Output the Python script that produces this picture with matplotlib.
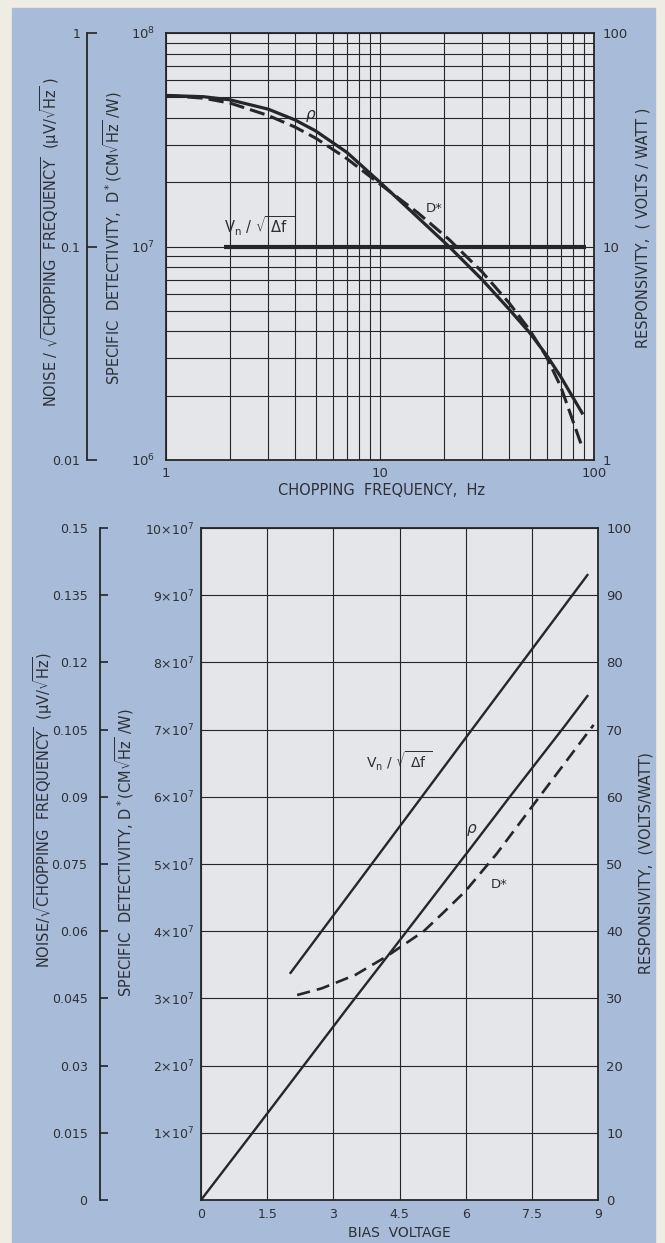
import matplotlib
matplotlib.use("Agg")
import matplotlib.pyplot as plt
from matplotlib.patches import Rectangle
from matplotlib.ticker import LogLocator, NullFormatter, NullLocator

# ---- top panel: response vs chopping frequency ----
freq = [1.0, 1.5, 2.0, 3.0, 4.0, 5.0, 7.0, 10.0, 15.0, 21.0, 30.0, 40.0, 50.0, 60.0, 70.0, 88.0]
rho_freq = [51.0, 50.3, 48.6, 44.0, 39.2, 34.8, 27.6, 20.0, 13.7, 10.0, 7.0, 5.1, 3.95, 3.1, 2.45, 1.66]
dstar_freq = [5.1e7, 4.95e7, 4.69e7, 4.11e7, 3.63e7, 3.22e7, 2.58e7, 1.96e7, 1.44e7, 1.08e7,
              7.6e6, 5.46e6, 4.07e6, 3.04e6, 2.2e6, 1.15e6]
noise_freq_x = [1.87, 92.0]
noise_freq = [0.1, 0.1]

# ---- bottom panel: response vs bias voltage ----
bias_rho = [0.0, 1.25, 2.2, 3.3, 4.5, 6.0, 7.0, 8.23, 8.76]
rho_bias = [0.0, 10.7, 18.9, 28.4, 38.6, 51.4, 60.0, 70.4, 75.0]
bias_dstar = [2.18, 2.74, 3.5, 4.22, 5.05, 5.5, 6.0, 6.7, 7.5, 8.9]
dstar_bias = [3.05e7, 3.15e7, 3.35e7, 3.63e7, 4.0e7, 4.28e7, 4.6e7, 5.15e7, 5.85e7, 7.07e7]
bias_noise = [2.03, 4.09, 6.05, 8.76]
noise_bias = [0.0507, 0.0779, 0.1038, 0.1395]

bias_ticks = [0, 1.5, 3, 4.5, 6, 7.5, 9]
bias_labels = ['0', '1.5', '3', '4.5', '6', '7.5', '9']
dstar_ticks = [k * 1e7 for k in range(1, 11)]
dstar_labels = [r'%d$\times$10$^7$' % k for k in range(1, 11)]
resp_ticks = list(range(0, 101, 10))
noise_ticks = [0.015 * k for k in range(11)]
noise_labels = ['0', '0.015', '0.03', '0.045', '0.06', '0.075', '0.09', '0.105', '0.12', '0.135', '0.15']

W, H = 665, 1243
CREAM = '#efece4'
BLUE = '#a8bcd9'
PLOT = '#e4e6ea'
INK = '#262628'
TEXT = '#2e2f36'

plt.rcParams['font.family'] = ['DejaVu Sans']


def rect(l, t, r, b):
    return [l / W, 1 - b / H, (r - l) / W, (b - t) / H]


def px(x, y):
    return x / W, 1 - y / H


fig = plt.figure(figsize=(W / 100, H / 100), dpi=100)
fig.patch.set_facecolor(CREAM)
fig.add_artist(Rectangle((12 / W, 0), (655 - 12) / W, 1 - 8 / H,
                         transform=fig.transFigure, color=BLUE, zorder=0))

# ================= top panel =================
ax1 = fig.add_axes(rect(166, 33, 594, 460))
ax1.set_facecolor(PLOT)
ax1.set_xscale('log')
ax1.set_yscale('log')
ax1.set_xlim(1, 100)
ax1.set_ylim(1e6, 1e8)
ax1.set_xticks([1, 10, 100], ['1', '10', '100'])
ax1.set_yticks([1e6, 1e7, 1e8], [r'10$^6$', r'10$^7$', r'10$^8$'])
for a in (ax1.xaxis, ax1.yaxis):
    a.set_minor_locator(LogLocator(base=10, subs=range(2, 10)))
    a.set_minor_formatter(NullFormatter())
ax1.grid(True, which='both', color=INK, lw=0.8)
ax1.tick_params(which='both', length=0, labelsize=9.5, colors=TEXT)
ax1.tick_params(axis='y', pad=8)
ax1.tick_params(axis='x', pad=5)
for s in ax1.spines.values():
    s.set_linewidth(1.3)
    s.set_color(INK)

ax1r = ax1.twinx()
ax1r.set_yscale('log')
ax1r.set_ylim(1, 100)
ax1r.set_yticks([1, 10, 100], ['1', '10', '100'])
ax1r.yaxis.set_minor_locator(NullLocator())
ax1r.tick_params(length=0, labelsize=9.5, pad=6, colors=TEXT)
for s in ax1r.spines.values():
    s.set_visible(False)

ax1n = ax1.twinx()
ax1n.set_yscale('log')
ax1n.set_ylim(0.01, 1)
ax1n.yaxis.set_ticks_position('left')
for name in ('right', 'top', 'bottom'):
    ax1n.spines[name].set_visible(False)
ax1n.spines['left'].set_position(('outward', 79 * 0.72))
ax1n.spines['left'].set_color(INK)
ax1n.spines['left'].set_linewidth(1.3)
ax1n.set_yticks([0.01, 0.1, 1], ['0.01', '0.1', '1'])
ax1n.yaxis.set_minor_locator(NullLocator())
ax1n.tick_params(direction='in', length=7, width=1.3, pad=5, labelsize=9, colors=TEXT)

ax1.plot(freq, dstar_freq, color=INK, lw=2.2, ls=(0, (5, 2)), zorder=3)
ax1r.plot(freq, rho_freq, color=INK, lw=2.3, zorder=3)
ax1n.plot(noise_freq_x, noise_freq, color=INK, lw=3.0, solid_capstyle='butt', zorder=3)

ax1.text(0.338, 0.805, r'$\rho$', transform=ax1.transAxes, fontsize=11, color=TEXT,
         ha='center', va='center', zorder=4)
ax1.text(0.626, 0.59, 'D*', transform=ax1.transAxes, fontsize=9.5, color=TEXT,
         ha='center', va='center', zorder=4)
ax1.text(0.136, 0.548, r'V$_\mathrm{n}$ / $\sqrt{\ \Delta\mathrm{f}\ }$', transform=ax1.transAxes,
         fontsize=10.5, color=TEXT, ha='left', va='center', zorder=4)

fig.text(*px(50, 242), r'NOISE / $\sqrt{\mathrm{CHOPPING\ \ FREQUENCY}}$  (μV/$\sqrt{\mathrm{Hz}}$ )',
         rotation=90, ha='center', va='center', fontsize=10.5, color=TEXT)
fig.text(*px(113, 238), r'SPECIFIC  DETECTIVITY,  D$^*$(CM$\sqrt{\mathrm{Hz}}$ /W)',
         rotation=90, ha='center', va='center', fontsize=10.5, color=TEXT)
fig.text(*px(643, 228), 'RESPONSIVITY,  ( VOLTS / WATT )',
         rotation=90, ha='center', va='center', fontsize=10.5, color=TEXT)
fig.text(*px(382, 491), 'CHOPPING  FREQUENCY,  Hz', ha='center', va='center',
         fontsize=10.5, color=TEXT)

# ================= bottom panel =================
ax2 = fig.add_axes(rect(201, 528, 598, 1200))
ax2.set_facecolor(PLOT)
ax2.set_xlim(0, 9)
ax2.set_ylim(0, 1e8)
ax2.set_xticks(bias_ticks, bias_labels)
ax2.set_yticks(dstar_ticks, dstar_labels)
ax2.grid(True, color=INK, lw=0.8)
ax2.tick_params(length=0, labelsize=9, colors=TEXT)
ax2.tick_params(axis='y', pad=5)
ax2.tick_params(axis='x', pad=6)
for s in ax2.spines.values():
    s.set_linewidth(1.3)
    s.set_color(INK)

ax2r = ax2.twinx()
ax2r.set_ylim(0, 100)
ax2r.set_yticks(resp_ticks, [str(v) for v in resp_ticks])
ax2r.tick_params(length=0, labelsize=9.5, pad=6, colors=TEXT)
for s in ax2r.spines.values():
    s.set_visible(False)

ax2n = ax2.twinx()
ax2n.set_ylim(0, 0.15)
ax2n.yaxis.set_ticks_position('left')
for name in ('right', 'top', 'bottom'):
    ax2n.spines[name].set_visible(False)
ax2n.spines['left'].set_position(('outward', 101 * 0.72))
ax2n.spines['left'].set_color(INK)
ax2n.spines['left'].set_linewidth(1.3)
ax2n.set_yticks(noise_ticks, noise_labels)
ax2n.tick_params(direction='in', length=6, width=1.3, pad=9, labelsize=9, colors=TEXT)

ax2.plot(bias_dstar, dstar_bias, color=INK, lw=1.9, ls=(0, (5, 2.7)), zorder=3)
ax2r.plot(bias_rho, rho_bias, color=INK, lw=1.7, zorder=3)
ax2n.plot(bias_noise, noise_bias, color=INK, lw=1.7, zorder=3)

ax2.text(0.681, 0.55, r'$\rho$', transform=ax2.transAxes, fontsize=11, color=TEXT,
         ha='center', va='center', zorder=4)
ax2.text(0.751, 0.47, 'D*', transform=ax2.transAxes, fontsize=9.5, color=TEXT,
         ha='center', va='center', zorder=4)
ax2.text(0.5, 0.652, r'V$_\mathrm{n}$ / $\sqrt{\ \Delta\mathrm{f}\ }$', transform=ax2.transAxes,
         fontsize=10, color=TEXT, ha='center', va='center', zorder=4)

fig.text(*px(43, 810), r'NOISE/$\sqrt{\mathrm{CHOPPING\ \ FREQUENCY}}$  (μV/$\sqrt{\mathrm{Hz}}$)',
         rotation=90, ha='center', va='center', fontsize=10.5, color=TEXT)
fig.text(*px(125, 853), r'SPECIFIC  DETECTIVITY, D$^*$(CM$\sqrt{\mathrm{Hz}}$ /W)',
         rotation=90, ha='center', va='center', fontsize=10.5, color=TEXT)
fig.text(*px(646, 863), 'RESPONSIVITY,  (VOLTS/WATT)',
         rotation=90, ha='center', va='center', fontsize=10.5, color=TEXT)
fig.text(*px(399, 1233), 'BIAS  VOLTAGE', ha='center', va='center',
         fontsize=10, color=TEXT)

fig.savefig('out.png', dpi=100, facecolor=fig.get_facecolor())
